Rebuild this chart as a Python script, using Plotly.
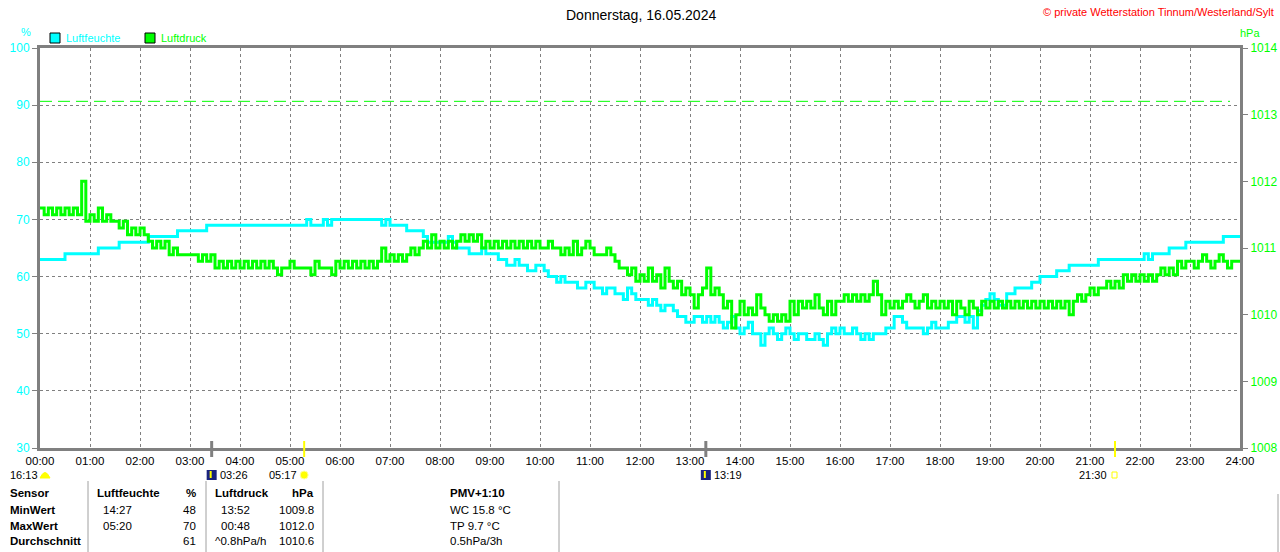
import plotly.graph_objects as go

# --- data -------------------------------------------------------------
HOURS = list(range(25))
HOUR_LABELS = [f"{h:02d}:00" for h in HOURS]
STEP_MIN = 5  # one reading every 5 minutes, 00:00 .. 24:00

# Luftfeuchte in %
HUM = [
    63, 63, 63, 63, 63, 63, 64, 64, 64, 64, 64, 64,
    64, 64, 65, 65, 65, 65, 65, 66, 66, 66, 66, 66,
    66, 66, 67, 67, 67, 67, 67, 67, 67, 68, 68, 68,
    68, 68, 68, 68, 69, 69, 69, 69, 69, 69, 69, 69,
    69, 69, 69, 69, 69, 69, 69, 69, 69, 69, 69, 69,
    69, 69, 69, 69, 70, 69, 69, 69, 70, 69, 70, 70,
    70, 70, 70, 70, 70, 70, 70, 70, 70, 70, 69, 70,
    69, 69, 69, 69, 68, 68, 68, 68, 67, 66, 66, 66,
    66, 66, 67, 66, 65, 65, 65, 64, 64, 64, 65, 64,
    64, 64, 63, 63, 62, 62, 63, 62, 62, 61, 61, 62,
    62, 61, 60, 60, 59, 60, 59, 59, 59, 58, 58, 59,
    59, 58, 58, 57, 58, 58, 57, 57, 56, 58, 57, 56,
    56, 56, 55, 56, 55, 54, 55, 55, 54, 53, 53, 52,
    52, 53, 53, 52, 53, 52, 53, 52, 51, 52, 53, 51,
    50, 51, 52, 50, 50, 48, 50, 51, 50, 49, 50, 51,
    50, 49, 50, 50, 49, 49, 50, 49, 48, 50, 51, 50,
    51, 50, 50, 51, 50, 49, 50, 49, 50, 50, 50, 51,
    51, 53, 53, 52, 51, 51, 51, 51, 50, 51, 52, 51,
    51, 51, 52, 52, 53, 53, 52, 53, 51, 54, 55, 56,
    57, 56, 55, 55, 57, 57, 58, 58, 58, 58, 59, 59,
    60, 60, 60, 60, 61, 61, 61, 62, 62, 62, 62, 62,
    62, 62, 63, 63, 63, 63, 63, 63, 63, 63, 63, 63,
    63, 64, 63, 64, 64, 64, 64, 65, 65, 65, 65, 66,
    66, 66, 66, 66, 66, 66, 66, 66, 67, 67, 67, 67,
    67,
]

# Luftdruck in hPa
PRESS = [
    1011.6, 1011.5, 1011.6, 1011.5, 1011.6, 1011.5, 1011.6, 1011.5, 1011.6, 1011.5, 1012.0, 1011.4,
    1011.5, 1011.4, 1011.6, 1011.4, 1011.5, 1011.4, 1011.4, 1011.3, 1011.4, 1011.2, 1011.3, 1011.2,
    1011.3, 1011.2, 1011.1, 1011.0, 1011.1, 1011.0, 1011.1, 1010.9, 1011.0, 1010.9, 1010.9, 1010.9,
    1010.9, 1010.9, 1010.8, 1010.9, 1010.8, 1010.9, 1010.7, 1010.8, 1010.7, 1010.8, 1010.7, 1010.8,
    1010.7, 1010.8, 1010.7, 1010.8, 1010.7, 1010.8, 1010.7, 1010.8, 1010.7, 1010.6, 1010.7, 1010.7,
    1010.8, 1010.7, 1010.7, 1010.7, 1010.7, 1010.6, 1010.8, 1010.7, 1010.7, 1010.7, 1010.6, 1010.8,
    1010.7, 1010.8, 1010.7, 1010.8, 1010.7, 1010.8, 1010.7, 1010.8, 1010.7, 1010.8, 1011.0, 1010.8,
    1010.9, 1010.8, 1010.9, 1010.8, 1010.9, 1011.0, 1010.9, 1011.0, 1011.1, 1011.0, 1011.2, 1011.0,
    1011.1, 1011.0, 1011.1, 1011.0, 1011.1, 1011.2, 1011.1, 1011.2, 1011.1, 1011.2, 1011.0, 1011.1,
    1011.0, 1011.1, 1011.0, 1011.1, 1011.0, 1011.1, 1011.0, 1011.1, 1011.0, 1011.1, 1011.0, 1011.1,
    1011.0, 1011.0, 1011.1, 1011.0, 1011.0, 1010.9, 1011.0, 1010.9, 1011.1, 1010.9, 1011.0, 1011.1,
    1011.0, 1010.9, 1010.9, 1010.9, 1011.0, 1010.9, 1010.8, 1010.7, 1010.7, 1010.6, 1010.7, 1010.5,
    1010.6, 1010.5, 1010.7, 1010.5, 1010.6, 1010.4, 1010.7, 1010.5, 1010.4, 1010.5, 1010.3, 1010.4,
    1010.3, 1010.1, 1010.3, 1010.4, 1010.7, 1010.3, 1010.4, 1010.3, 1010.1, 1010.2, 1009.8, 1010.0,
    1010.2, 1010.0, 1010.1, 1010.0, 1010.3, 1010.1, 1010.0, 1009.9, 1010.0, 1009.9, 1010.0, 1009.9,
    1010.2, 1010.0, 1010.2, 1010.1, 1010.2, 1010.1, 1010.3, 1010.1, 1010.0, 1010.2, 1010.0, 1010.2,
    1010.2, 1010.3, 1010.2, 1010.3, 1010.2, 1010.3, 1010.2, 1010.3, 1010.5, 1010.3, 1010.0, 1010.2,
    1010.1, 1010.2, 1010.1, 1010.2, 1010.3, 1010.2, 1010.1, 1010.2, 1010.3, 1010.1, 1010.2, 1010.1,
    1010.2, 1010.1, 1010.2, 1010.0, 1010.2, 1010.1, 1010.0, 1010.2, 1010.1, 1010.0, 1010.2, 1010.1,
    1010.2, 1010.1, 1010.2, 1010.1, 1010.2, 1010.1, 1010.2, 1010.1, 1010.2, 1010.1, 1010.2, 1010.1,
    1010.2, 1010.1, 1010.2, 1010.1, 1010.2, 1010.1, 1010.2, 1010.0, 1010.2, 1010.3, 1010.2, 1010.3,
    1010.4, 1010.3, 1010.4, 1010.4, 1010.5, 1010.4, 1010.5, 1010.4, 1010.6, 1010.5, 1010.6, 1010.5,
    1010.6, 1010.5, 1010.6, 1010.5, 1010.6, 1010.7, 1010.6, 1010.7, 1010.6, 1010.8, 1010.7, 1010.8,
    1010.8, 1010.7, 1010.8, 1010.9, 1010.8, 1010.7, 1010.8, 1010.9, 1010.8, 1010.7, 1010.8, 1010.8,
    1010.8,
]

TIMES = [i * STEP_MIN / 60 for i in range(len(HUM))]

PRESS_REF = 1013.2
PRESS_REF_END = 23.8

# sun / moon events (label, hour, kind)
EVENTS = [("03:26", 3 + 26 / 60, "moon"), ("05:17", 5 + 17 / 60, "sun"),
          ("13:19", 13 + 19 / 60, "moon"), ("21:30", 21.5, "sun")]

# table under the chart
ROW_NAMES = ["Sensor", "MinWert", "MaxWert", "Durchschnitt"]
HUM_TIMES = ["Luftfeuchte", "14:27", "05:20", ""]
HUM_VALS = ["%", "48", "70", "61"]
PRESS_TIMES = ["Luftdruck", "13:52", "00:48", "^0.8hPa/h"]
PRESS_VALS = ["hPa", "1009.8", "1012.0", "1010.6"]
EXTRA = ["PMV+1:10", "WC 15.8 °C", "TP 9.7 °C", "0.5hPa/3h"]

CYAN = "#00FFFF"
GREEN = "#00FF00"
GREY = "#808080"
FONT = "Arial, Liberation Sans, sans-serif"


# pixel -> paper helpers (plot area is 40..1240 x 48..448)
def px(x):
    return (x - 40) / 1200


def py(y):
    return (448 - y) / 400


fig = go.Figure()
fig.add_trace(go.Scatter(x=TIMES, y=HUM, mode="lines", name="Luftfeuchte",
                         line=dict(color=CYAN, width=3, shape="hv")))
fig.add_trace(go.Scatter(x=TIMES, y=PRESS, mode="lines", name="Luftdruck", yaxis="y2",
                         line=dict(color=GREEN, width=3, shape="hv")))
fig.add_trace(go.Scatter(x=[0, PRESS_REF_END], y=[PRESS_REF, PRESS_REF], mode="lines",
                         yaxis="y2", line=dict(color=GREEN, width=1, dash="12px,6px")))

shapes = []
ann = []


def text(x, y, s, color="black", size=11, anchor="left", bold=False):
    ann.append(dict(x=px(x), y=py(y), xref="paper", yref="paper", text=f"<b>{s}</b>" if bold else s,
                    showarrow=False, xanchor=anchor, yanchor="middle",
                    font=dict(family=FONT, size=size, color=color)))


# title, copyright, units, legend
text(641, 15, "Donnerstag, 16.05.2024", size=14, anchor="center")
text(1276, 12, "© private Wetterstation Tinnum/Westerland/Sylt", color="red", size=11, anchor="right")
text(26, 32, "%", color=CYAN, size=11, anchor="center")
text(1250, 33, "hPa", color=GREEN, size=11, anchor="center")
for x0, col, name in [(50, CYAN, "Luftfeuchte"), (145, GREEN, "Luftdruck")]:
    shapes.append(dict(type="rect", xref="paper", yref="paper", x0=px(x0), x1=px(x0 + 10),
                       y0=py(43), y1=py(33), fillcolor=col, line=dict(color="black", width=1)))
    text(x0 + 14, 38, name, color=col, size=11)

# sun / moon marks on the time axis
LABEL_Y = 475
for label, hr, kind in EVENTS:
    shapes.append(dict(type="line", xref="x", yref="paper", x0=hr, x1=hr, y0=py(457), y1=py(441),
                       line=dict(color=GREY if kind == "moon" else "#FFFF00", width=3 if kind == "moon" else 2)))
    xc = 40 + hr * 50
    if kind == "moon":
        shapes.append(dict(type="rect", xref="paper", yref="paper", x0=px(xc - 5), x1=px(xc + 5),
                           y0=py(480), y1=py(470), fillcolor="#1A237E", line=dict(width=0)))
        shapes.append(dict(type="line", xref="paper", yref="paper", x0=px(xc - 1), x1=px(xc - 1),
                           y0=py(478), y1=py(471), line=dict(color="#FFFF00", width=2)))
        text(xc + 6, LABEL_Y, label)
    elif label == "05:17":
        shapes.append(dict(type="circle", xref="paper", yref="paper", x0=px(xc - 4), x1=px(xc + 4),
                           y0=py(479), y1=py(471), fillcolor="#FFFF00", line=dict(color="#FFFFA0", width=1)))
        text(xc - 5, LABEL_Y, label, anchor="right")
    else:
        shapes.append(dict(type="rect", xref="paper", yref="paper", x0=px(xc - 3), x1=px(xc + 2),
                           y0=py(478), y1=py(472), line=dict(color="#FFFF00", width=1)))
        text(xc - 6, LABEL_Y, label, anchor="right")

# moon phase at start of day
text(8, LABEL_Y, "16:13")
shapes.append(dict(type="path", xref="paper", yref="paper",
                   path=f"M {px(40)},{py(478)} Q {px(45)},{py(467)} {px(50)},{py(478)} Z",
                   fillcolor="#FFFF00", line=dict(color="#FFFF00", width=1)))

# table
ROW_Y = [493, 509.5, 525.5, 541]
for i, y in enumerate(ROW_Y):
    head = i == 0
    text(8, y, ROW_NAMES[i], size=11.5, bold=True)
    text(95 if head else 101, y, HUM_TIMES[i], size=11.5, bold=head)
    text(198, y, HUM_VALS[i], size=11.5, anchor="right", bold=head)
    text(213 if head or i == 3 else 219, y, PRESS_TIMES[i], size=11.5, bold=head)
    text(316, y, PRESS_VALS[i], size=11.5, anchor="right", bold=head)
    text(448, y, EXTRA[i], size=11.5, bold=head)
for xl in [88, 206, 323, 559]:
    shapes.append(dict(type="line", xref="paper", yref="paper", x0=px(xl), x1=px(xl),
                       y0=py(552), y1=py(481), line=dict(color="#A0A0A0", width=1)))
shapes.append(dict(type="line", xref="paper", yref="paper", x0=px(1278), x1=px(1278),
                   y0=py(552), y1=py(494), line=dict(color="#A0A0A0", width=1)))

fig.update_layout(
    width=1280, height=552,
    margin=dict(l=40, r=40, t=48, b=104, autoexpand=False),
    paper_bgcolor="white", plot_bgcolor="white",
    showlegend=False,
    font=dict(family=FONT),
    shapes=shapes, annotations=ann,
    xaxis=dict(range=[0, 24], tickvals=HOURS, ticktext=HOUR_LABELS, automargin=False,
               showgrid=True, gridcolor=GREY, griddash="3px,3px", gridwidth=1,
               showline=True, linecolor=GREY, linewidth=3, mirror=True,
               ticks="", tickfont=dict(size=11.5, color="black"), zeroline=False,
               ticklabelstandoff=0, fixedrange=True),
    yaxis=dict(range=[30, 100], tickvals=list(range(30, 101, 10)), automargin=False,
               showgrid=True, gridcolor=GREY, griddash="3px,3px", gridwidth=1,
               showline=True, linecolor=GREY, linewidth=3,
               ticks="outside", ticklen=5, tickcolor=GREY,
               tickfont=dict(size=12, color=CYAN), zeroline=False),
    yaxis2=dict(range=[1008, 1014], tickvals=list(range(1008, 1015)), overlaying="y", side="right",
                automargin=False,
                showgrid=False, showline=True, linecolor=GREY, linewidth=3,
                ticks="outside", ticklen=5, tickcolor=GREY,
                tickfont=dict(size=12, color=GREEN), zeroline=False),
)

# the page's default 8px body margin would shift the whole figure
fig.write_html("out.html", config={"displayModeBar": False},
               post_script="document.body.style.margin='0';")
